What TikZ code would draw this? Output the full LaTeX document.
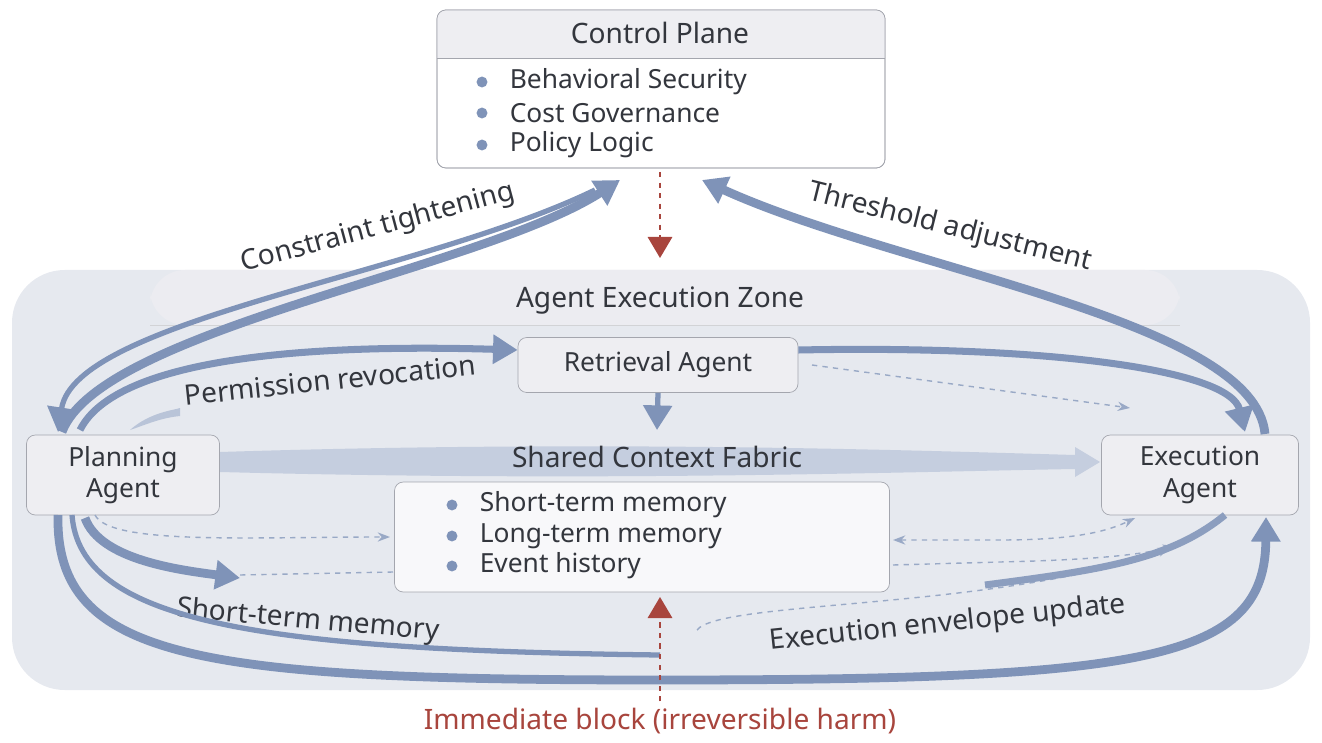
\documentclass[tikz,border=0pt]{standalone}
\usepackage{fontspec}
\setmainfont{Noto Sans}
\usetikzlibrary{arrows.meta,positioning}
\definecolor{flow}{HTML}{7F93B8}
\definecolor{boxfill}{HTML}{EEEEF2}
\definecolor{boxline}{HTML}{A4A6AE}
\definecolor{zone}{HTML}{E6E9EF}
\definecolor{harm}{HTML}{A8453D}
\definecolor{ink}{HTML}{33363D}
\begin{document}
\begin{tikzpicture}[x=0.02cm,y=-0.02cm,
    font=\fontsize{15}{18}\selectfont, text=ink]
  \tikzset{
    agent/.style={rectangle, rounded corners=5pt, draw=boxline, fill=boxfill, align=center, inner sep=0pt},
    flowline/.style={draw=flow, line width=#1, -{Triangle[length=14pt,width=16pt]}},
    flowline/.default=3pt,
    hint/.style={draw=flow!80, dashed, thick, -{Stealth[length=7pt]}},
    block/.style={draw=harm, dashed, thick, -{Triangle[length=12pt,width=14pt]}},
    dot/.style={circle, fill=flow, inner sep=2.2pt},
    item/.style={label={[font=\fontsize{15}{18}\selectfont, label distance=9pt]right:#1}},
    tag/.style={font=\fontsize{16}{18}\selectfont}
  }
  \useasboundingbox (0,0) rectangle (1322,743);

  % zone
  \fill[zone, rounded corners=30pt] (12,270) rectangle (1310,690);
  \fill[boxfill!70!zone, rounded corners=20pt] (150,270) rectangle (1180,325);
  \draw[boxline!50] (150,325) -- (1180,325);
  \node[tag] (zonetitle) at (660,301) {Agent Execution Zone};

  % control plane
  \draw[boxline, fill=white, rounded corners=5pt] (437,10) rectangle (885,168);
  \fill[boxfill, rounded corners=5pt] (437,10) rectangle (885,58);
  \fill[boxfill] (437,40) rectangle (885,58);
  \draw[boxline, rounded corners=5pt] (437,10) rectangle (885,168);
  \draw[boxline] (437,58) -- (885,58);
  \node[tag] (cp) at (660,33) {Control Plane};
  \foreach \y/\t in {82/Behavioral Security,113/Cost Governance,145/Policy Logic}
    \node[dot, item=\t] at (482,\y) {};

  % agents
  \node[agent, minimum width=280*0.02cm, minimum height=55*0.02cm] (ret) at (658,365) {Retrieval Agent};
  \node[agent, minimum width=193*0.02cm, minimum height=80*0.02cm] (plan) at (123,475) {Planning\\Agent};
  \node[agent, minimum width=197*0.02cm, minimum height=80*0.02cm] (exec) at (1200,475) {Execution\\Agent};
  \node[agent, fill=white!60!boxfill, minimum width=495*0.02cm, minimum height=110*0.02cm] (mem) at (642,537) {};
  \foreach \y/\t in {505/Short-term memory,536/Long-term memory,566/Event history}
    \node[dot, item=\t] at (452,\y) {};

  % shared context fabric
  \fill[flow!45] (220,452) .. controls (600,440) and (900,450) .. (1075,455)
    -- (1075,447) -- (1100,462) -- (1075,477) -- (1075,469)
    .. controls (900,472) and (600,482) .. (220,472) -- cycle;
  \node[tag] (scf) at (657,457) {Shared Context Fabric};

  % control loops
  \draw[flowline=5pt] (62,432) .. controls (100,330) and (480,270) .. (620,180);
  \draw[flowline=3pt] (595,190) .. controls (420,275) and (75,320) .. (58,432);
  \draw[flowline=5pt] (1265,434) .. controls (1255,320) and (900,270) .. (702,180);
  \node[tag, rotate=15] (ct) at (378,228) {Constraint tightening};
  \node[tag, rotate=-14] (ta) at (950,228) {Threshold adjustment};

  \draw[block] (cp.south |- 0,172) -- (660,258);

  % retrieval paths
  \draw[flowline=4pt] (80,430) .. controls (120,350) and (350,345) .. (ret.west |- 0,350);
  \draw[flowline=4pt] (ret.east |- 0,350) .. controls (1050,345) and (1230,370) .. (1245,432);
  \draw[hint] (812,365) -- (1130,408);
  \draw[flowline=3pt] (ret.south) -- (657,430);
  \fill[flow!55] (130,430) .. controls (150,412) and (175,410) .. (180,408) -- (180,416) .. controls (160,418) and (145,425) .. (130,430);
  \node[tag, rotate=6] (pr) at (330,380) {Permission revocation};

  % memory paths
  \draw[hint] (95,515) .. controls (110,545) and (250,537) .. (390,537);
  \draw[flowline=5pt] (85,518) .. controls (100,560) and (180,570) .. (240,578);
  \draw[hint, -] (393,572) -- (240,575);
  \node[tag, rotate=-5] (stm) at (308,621) {Short-term memory};

  \draw[hint, {Stealth[length=7pt]}-{Stealth[length=7pt]}] (893,540) -- (1000,540) .. controls (1080,540) and (1110,530) .. (1135,518);
  \draw[hint] (893,565) -- (1000,562) .. controls (1090,560) and (1140,555) .. (1175,546);
  \draw[hint] (697,630) .. controls (720,600) and (1000,610) .. (1170,548);
  \draw[flow!90, line width=4pt] (985,585) .. controls (1100,570) and (1170,560) .. (1225,515);
  \node[tag, rotate=6] (eeu) at (948,624) {Execution envelope update};

  % outer loop
  \draw[flowline=5pt] (58,515) .. controls (55,660) and (200,680) .. (660,680)
    .. controls (1150,680) and (1265,660) .. (1266,517);
  \draw[flow, line width=3pt] (72,515) .. controls (80,620) and (250,650) .. (660,655);

  % immediate block
  \draw[block] (660,712) -- (660,597);
  \node[tag, text=harm, fill=white, inner sep=1pt] (ib) at (660,721) {Immediate block (irreversible harm)};
\end{tikzpicture}
\end{document}
